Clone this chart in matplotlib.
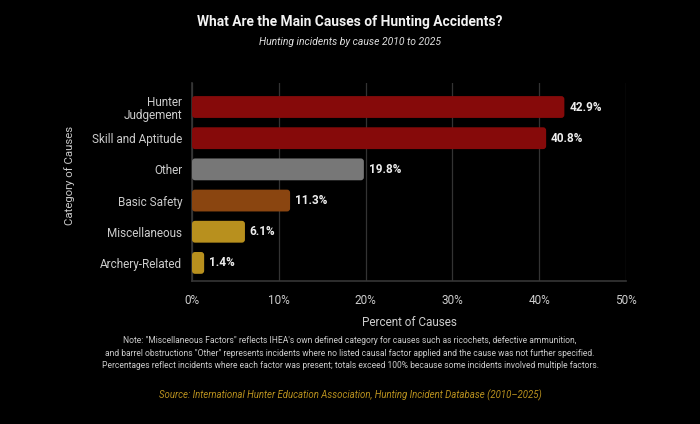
import numpy as np
import matplotlib.pyplot as plt
from matplotlib.patches import FancyBboxPatch

plt.rcParams['font.family'] = ['Roboto', 'DejaVu Sans']

# data
causes = ["Hunter\nJudgement", "Skill and Aptitude", "Other", "Basic Safety",
          "Miscellaneous", "Archery-Related"]
percents = [42.9, 40.8, 19.8, 11.3, 6.1, 1.4]
bar_colors = ["#860a0a", "#860a0a", "#777777", "#8a4510", "#b8901e", "#b8901e"]
xticks = [0, 10, 20, 30, 40, 50]

note = ("Note: \"Miscellaneous Factors\" reflects IHEA's own defined category for causes such as ricochets, defective ammunition,\n"
        "and barrel obstructions \"Other\" represents incidents where no listed causal factor applied and the cause was not further specified.\n"
        "Percentages reflect incidents where each factor was present; totals exceed 100% because some incidents involved multiple factors.")
source = "Source: International Hunter Education Association, Hunting Incident Database (2010\u20132025)"

bg = "#000000"
fig = plt.figure(figsize=(7, 4.24), dpi=100, facecolor=bg)
ax = fig.add_axes([192/700, 1-281/424, 434/700, 198/424], facecolor=bg)

ypos = np.arange(len(causes))
bars = ax.barh(ypos, percents, height=0.7, color=bar_colors)

# swap plain bars for rounded ones
for b in bars:
    x, y = b.get_x(), b.get_y()
    w, h = b.get_width(), b.get_height()
    c = b.get_facecolor()
    b.set_visible(False)
    p = FancyBboxPatch((x, y), w, h, boxstyle="round,pad=0,rounding_size=0.35",
                       mutation_aspect=0.28, facecolor=c, edgecolor='none', zorder=3)
    ax.add_patch(p)

for yy, v in zip(ypos, percents):
    ax.text(v + 0.55, yy, f"{v}%", va='center', ha='left', color='#eeeeee',
            fontsize=8.5, fontweight='bold', zorder=4)

ax.set_xlim(0, 50)
ax.set_ylim(5.58, -0.77)
ax.set_xticks(xticks)
ax.set_xticklabels([f"{t}%" for t in xticks])
ax.set_yticks(ypos)
ax.set_yticklabels(causes)
ax.tick_params(axis='both', colors='#cccccc', labelsize=8.5, length=0)
ax.tick_params(axis='x', pad=9)
ax.tick_params(axis='y', pad=7)
for lbl in ax.get_yticklabels():
    lbl.set_linespacing(1.0)
    lbl.set_multialignment('right')

ax.grid(axis='x', color='#333333', linewidth=0.9, zorder=0)
ax.set_axisbelow(True)
for s in ['top', 'right']:
    ax.spines[s].set_visible(False)
for s in ['left', 'bottom']:
    ax.spines[s].set_color('#363636')
    ax.spines[s].set_linewidth(1.2)

ax.set_xlabel("Percent of Causes", color='#cccccc', fontsize=8.5, labelpad=7)
fig.text(70/700, 1-175/424, "Category of Causes", rotation=90, color='#cccccc',
         fontsize=8.2, ha='center', va='center')

fig.text(0.5, 1-22/424, "What Are the Main Causes of Hunting Accidents?", color='#f2f2f2',
         fontsize=9.9, fontweight='bold', ha='center', va='center')
fig.text(0.5, 1-42/424, "Hunting incidents by cause 2010 to 2025", color='#dddddd',
         fontsize=7.5, style='italic', ha='center', va='center')
fig.text(0.5, 1-353/424, note, color='#cccccc', fontsize=6.15, ha='center', va='center',
         linespacing=1.45)
fig.text(0.5, 1-395/424, source, color='#b8901e', fontsize=6.9, style='italic',
         ha='center', va='center')

fig.savefig("out.png", dpi=100, facecolor=bg)
